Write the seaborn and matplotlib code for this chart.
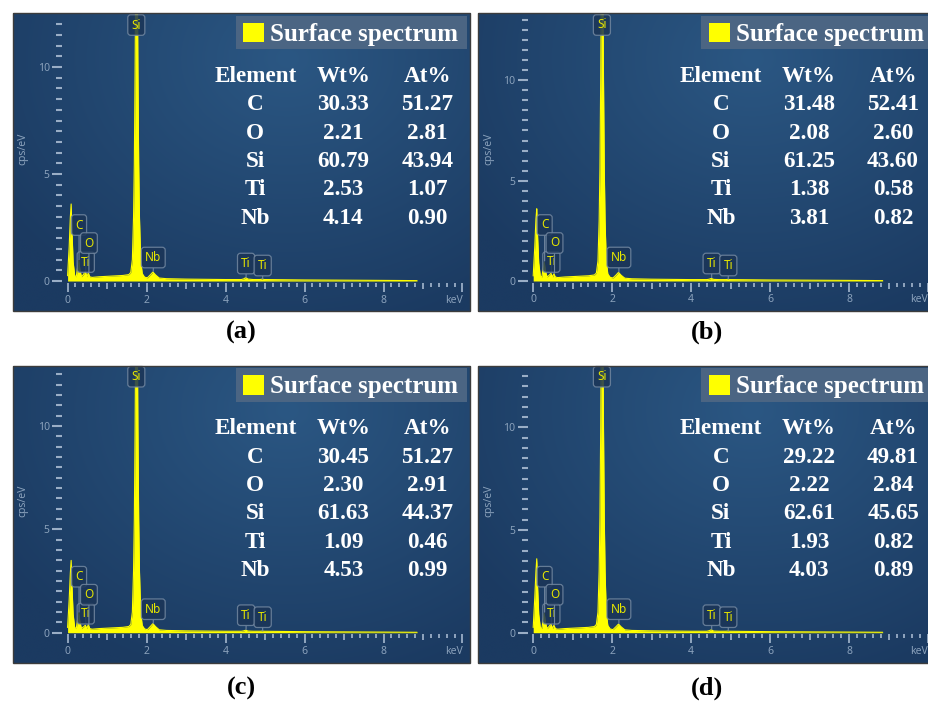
import numpy as np
import pandas as pd
import matplotlib
matplotlib.use("Agg")
import matplotlib.pyplot as plt
import seaborn as sns
from matplotlib.patches import Rectangle
from matplotlib.ticker import FixedLocator, FixedFormatter
from matplotlib.transforms import offset_copy

# ---------------- data ----------------
panel_tags = ["(a)", "(b)", "(c)", "(d)"]

energy_kev = [0.00, 0.04, 0.07, 0.09, 0.11, 0.14, 0.18, 0.22, 0.25, 0.28,
              0.31, 0.35, 0.40, 0.45, 0.49, 0.525, 0.56, 0.62, 0.80, 1.00,
              1.20, 1.40, 1.55, 1.60, 1.64, 1.67, 1.69, 1.71, 1.73, 1.745,
              1.76, 1.78, 1.80, 1.82, 1.85, 1.89, 1.95, 2.02, 2.09, 2.16,
              2.23, 2.32, 2.50, 3.00, 3.50, 4.00, 4.40, 4.46, 4.51, 4.57,
              4.70, 4.88, 4.93, 4.98, 5.50, 6.00, 7.00, 8.00, 8.85]

cps_a = [0.25, 1.6, 3.0, 3.6, 2.4, 0.9, 0.25, 0.2, 0.6, 1.0,
         0.55, 0.2, 0.3, 0.45, 0.2, 0.38, 0.2, 0.17, 0.2, 0.22,
         0.24, 0.26, 0.3, 0.4, 1.0, 3.0, 5.5, 10.0, 16.0, 18.0,
         16.0, 10.0, 5.5, 3.0, 1.0, 0.35, 0.18, 0.15, 0.28, 0.42,
         0.28, 0.14, 0.11, 0.09, 0.08, 0.07, 0.07, 0.10, 0.16, 0.09,
         0.07, 0.07, 0.09, 0.07, 0.06, 0.05, 0.04, 0.03, 0.02]
cps_b = [0.25, 1.7, 3.1, 3.6, 2.3, 0.9, 0.25, 0.2, 0.6, 0.95,
         0.5, 0.2, 0.28, 0.38, 0.2, 0.36, 0.2, 0.17, 0.2, 0.22,
         0.24, 0.26, 0.3, 0.4, 1.0, 3.0, 5.6, 10.2, 16.5, 18.5,
         16.5, 10.2, 5.6, 3.0, 1.0, 0.35, 0.18, 0.15, 0.28, 0.43,
         0.28, 0.14, 0.11, 0.09, 0.08, 0.07, 0.07, 0.09, 0.13, 0.08,
         0.07, 0.07, 0.08, 0.07, 0.06, 0.05, 0.04, 0.03, 0.02]
cps_c = [0.25, 1.6, 2.9, 3.5, 2.3, 0.9, 0.25, 0.2, 0.6, 1.0,
         0.55, 0.2, 0.28, 0.36, 0.2, 0.4, 0.2, 0.17, 0.2, 0.22,
         0.24, 0.26, 0.3, 0.4, 1.0, 3.0, 5.5, 10.0, 16.2, 18.2,
         16.2, 10.0, 5.5, 3.0, 1.0, 0.35, 0.18, 0.15, 0.29, 0.44,
         0.29, 0.14, 0.11, 0.09, 0.08, 0.07, 0.07, 0.09, 0.12, 0.08,
         0.07, 0.07, 0.08, 0.07, 0.06, 0.05, 0.04, 0.03, 0.02]
cps_d = [0.25, 1.7, 3.0, 3.6, 2.3, 0.9, 0.25, 0.2, 0.6, 0.95,
         0.5, 0.2, 0.3, 0.42, 0.2, 0.37, 0.2, 0.17, 0.2, 0.22,
         0.24, 0.26, 0.3, 0.4, 1.0, 3.0, 5.6, 10.1, 16.4, 18.4,
         16.4, 10.1, 5.6, 3.0, 1.0, 0.35, 0.18, 0.15, 0.28, 0.42,
         0.28, 0.14, 0.11, 0.09, 0.08, 0.07, 0.07, 0.10, 0.14, 0.08,
         0.07, 0.07, 0.08, 0.07, 0.06, 0.05, 0.04, 0.03, 0.02]

elements = ["C", "O", "Si", "Ti", "Nb"]
wt_a = [30.33, 2.21, 60.79, 2.53, 4.14]
at_a = [51.27, 2.81, 43.94, 1.07, 0.90]
wt_b = [31.48, 2.08, 61.25, 1.38, 3.81]
at_b = [52.41, 2.60, 43.60, 0.58, 0.82]
wt_c = [30.45, 2.30, 61.63, 1.09, 4.53]
at_c = [51.27, 2.91, 44.37, 0.46, 0.99]
wt_d = [29.22, 2.22, 62.61, 1.93, 4.03]
at_d = [49.81, 2.84, 45.65, 0.82, 0.89]

peak_labels = ["Ti", "C", "O", "Nb", "Ti", "Ti", "Si"]
peak_kev = [0.46, 0.29, 0.54, 2.17, 4.52, 4.94, 1.74]
peak_tip_cps = [0.45, 1.0, 0.38, 0.45, 0.16, 0.09, None]

x_major = [0, 2, 4, 6, 8, 10]
x_major_labels = ["0", "2", "4", "6", "8", "keV"]
y_major = [0, 5, 10]
legend_text = "Surface spectrum"
table_header = ["Element", "Wt%", "At%"]

# ---------------- layout / style ----------------
W, H = 929, 702
panel_px = [  # left, top, right, bottom (pixels)
    (12.7, 13.3, 470.0, 311.0),
    (478.3, 13.3, 935.6, 311.0),
    (12.7, 365.7, 470.0, 663.3),
    (478.3, 365.7, 935.6, 663.3),
]
ylims = [(-1.40, 12.51), (-1.495, 13.34), (-1.48, 12.92), (-1.49, 13.0)]
xlim = (-1.39, 10.19)
caption_px = [(241, 332), (707.5, 332), (241.7, 688), (707.5, 688)]
label_px_above = [19, 56, 38, 23.5, 17.5, 15.5, 256]   # box centre, px above y=0

yellow = "#ffff00"
tick_col = "#9aaec6"
lab_col = "#8aa1bb"
serif = ["Liberation Serif", "DejaVu Serif"]
sans = ["Noto Sans", "DejaVu Sans"]

sns.set_theme(style="white")
plt.rcParams["font.family"] = sans

fig = plt.figure(figsize=(W / 100, H / 100), dpi=100)
fig.patch.set_facecolor("white")

# background gradient image
gh, gw = 150, 240
yy, xx = np.mgrid[0:1:gh * 1j, 0:1:gw * 1j]
dist = np.sqrt(((xx - 0.60) / 0.75) ** 2 + ((yy - 0.15) / 0.95) ** 2)
t = np.clip(dist, 0, 1)[..., None]
c_light = np.array([0x2b, 0x57, 0x83]) / 255
c_dark = np.array([0x1b, 0x3a, 0x61]) / 255
grad = c_light * (1 - t) + c_dark * t

spectra = [cps_a, cps_b, cps_c, cps_d]
wts = [wt_a, wt_b, wt_c, wt_d]
ats = [at_a, at_b, at_c, at_d]

for i in range(4):
    l, tp, r, b = panel_px[i]
    ax = fig.add_axes([l / W, 1 - b / H, (r - l) / W, (b - tp) / H])
    ax.imshow(grad, extent=(0, 1, 0, 1), transform=ax.transAxes,
              aspect="auto", zorder=0, origin="upper", interpolation="bilinear")

    df = pd.DataFrame({"keV": energy_kev, "cps": spectra[i]})
    ax.fill_between(df["keV"], 0, df["cps"], color=yellow, lw=0, zorder=3)
    sns.lineplot(data=df, x="keV", y="cps", ax=ax, color=yellow, lw=0.8,
                 zorder=3, estimator=None, sort=False)
    ax.set_xlabel("")
    ax.set_ylabel("")
    ax.set_xlim(*xlim)
    ax.set_ylim(*ylims[i])

    for s in ax.spines.values():
        s.set_visible(False)
    ax.spines["left"].set_position(("data", -0.13))
    ax.spines["bottom"].set_position(("data", -0.08))

    ymax = ylims[i][1]
    ax.yaxis.set_major_locator(FixedLocator(y_major))
    ax.yaxis.set_major_formatter(FixedFormatter([str(v) for v in y_major]))
    ax.yaxis.set_minor_locator(FixedLocator(np.arange(0, ymax - 0.3, 0.5)))
    ax.xaxis.set_major_locator(FixedLocator(x_major))
    ax.xaxis.set_major_formatter(FixedFormatter(x_major_labels))
    ax.xaxis.set_minor_locator(FixedLocator(np.arange(0, 10.01, 0.2)))

    ax.tick_params(axis="y", which="major", direction="out", length=7.2,
                   width=1.5, color=tick_col, labelcolor=lab_col,
                   labelsize=7.5, pad=2, left=True)
    ax.tick_params(axis="y", which="minor", direction="out", length=4.3,
                   width=1.5, color=tick_col, left=True)
    ax.tick_params(axis="x", which="major", direction="out", length=6.5,
                   width=1.3, color=tick_col, labelcolor=lab_col,
                   labelsize=7.5, pad=2, bottom=True)
    ax.tick_params(axis="x", which="minor", direction="out", length=2.8,
                   width=1.3, color=tick_col, bottom=True)

    # odd-integer ticks a bit longer
    mlocs = ax.xaxis.get_minorticklocs()
    mticks = ax.xaxis.get_minor_ticks(len(mlocs))
    for loc, tk in zip(mlocs, mticks):
        if abs(loc - round(loc)) < 1e-6:
            tk.tick1line.set_markersize(4.6)
    ax.xaxis.get_major_ticks()[-1].label1.set_horizontalalignment("right")

    ax.text(0.023, 0.545, "cps/eV", transform=ax.transAxes, rotation=90,
            ha="center", va="center", color=lab_col, fontsize=7.5)

    # peak labels
    for lab, kx, tip, dy in zip(peak_labels, peak_kev, peak_tip_cps, label_px_above):
        trans = offset_copy(ax.transData, fig=fig, x=0, y=dy * 0.72, units="points")
        kw = dict(ha="center", va="center", fontsize=8.5, color="#e6e600",
                  zorder=6,
                  bbox=dict(boxstyle="round,pad=0.32,rounding_size=0.25",
                            fc="#1b3557", ec="#7287a0", lw=0.9, alpha=0.85))
        if tip is None:
            ax.text(kx, 0, lab, transform=trans, **kw)
        else:
            ax.annotate(lab, xy=(kx, tip), xycoords="data", xytext=(kx, 0),
                        textcoords=trans,
                        arrowprops=dict(arrowstyle="-", color="#7287a0",
                                        lw=0.8, shrinkA=0, shrinkB=0),
                        **kw)

    # legend box
    ax.add_patch(Rectangle((0.4877, 0.879), 0.505, 0.113, transform=ax.transAxes,
                           fc="#4b6583", ec="none", zorder=7))
    ax.add_patch(Rectangle((0.5043, 0.9026), 0.0459, 0.0654, transform=ax.transAxes,
                           fc=yellow, ec="none", zorder=8))
    ax.text(0.563, 0.908, legend_text, transform=ax.transAxes, ha="left",
            va="baseline", color="white", fontsize=18, fontweight="bold",
            family=serif, zorder=8)

    # composition table
    col_x = [0.5305, 0.723, 0.907]
    y0, dy_row = 0.7692, 0.0951
    for cx, htxt in zip(col_x, table_header):
        ax.text(cx, y0, htxt, transform=ax.transAxes, ha="center", va="baseline",
                color="white", fontsize=16.7, fontweight="bold", family=serif, zorder=8)
    for k, el in enumerate(elements):
        yk = y0 - (k + 1) * dy_row
        for cx, val in zip(col_x, [el, f"{wts[i][k]:.2f}", f"{ats[i][k]:.2f}"]):
            ax.text(cx, yk, val, transform=ax.transAxes, ha="center", va="baseline",
                    color="white", fontsize=16.7, fontweight="bold", family=serif,
                    zorder=8)

    ax.add_patch(Rectangle((0, 0), 1, 1, transform=ax.transAxes, fill=False,
                           ec="#3c3c3c", lw=1.0, clip_on=False, zorder=10))

    cx, cy = caption_px[i]
    fig.text(cx / W, 1 - cy / H, panel_tags[i], ha="center", va="center",
             fontsize=19, fontweight="bold", family=serif, color="black")

fig.savefig("out.png", dpi=100, facecolor="white")
